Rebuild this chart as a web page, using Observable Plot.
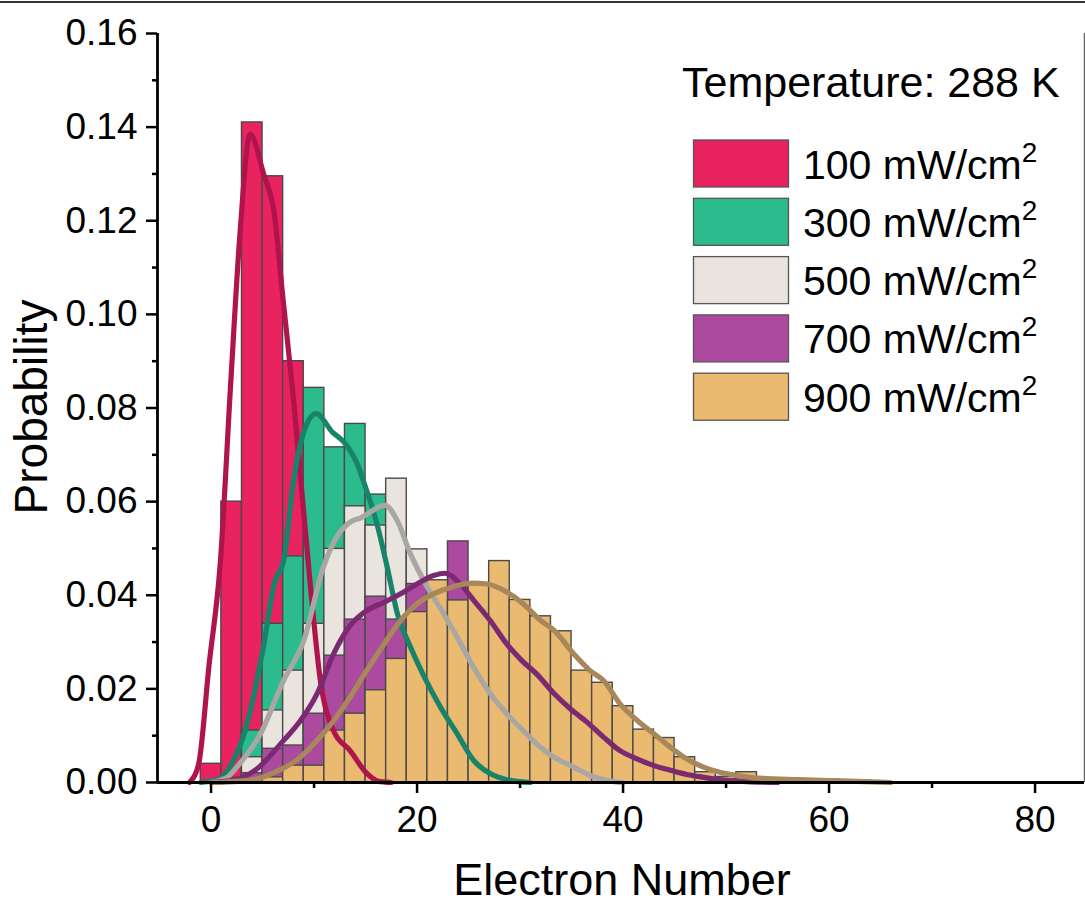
<!DOCTYPE html>
<html>
<head>
<meta charset="utf-8">
<script src="https://cdn.jsdelivr.net/npm/d3@7"></script>
<script src="https://cdn.jsdelivr.net/npm/@observablehq/plot@0.6"></script>
<style>
  body { margin: 0; background: #fff; font-family: "Liberation Sans", Arial, sans-serif; }
  #wrap { position: relative; width: 1085px; height: 906px; overflow: hidden; background: #fff; }
  #chart { position: absolute; left: 0; top: 0; }
  #overlay { position: absolute; left: 0; top: 0; pointer-events: none; }
  #topline { position: absolute; left: 0; top: 1px; width: 1085px; height: 2px; background: #333; }
</style>
</head>
<body>
<div id="wrap">
  <div id="chart"></div>
  <svg id="overlay" width="1085" height="906"></svg>
  <div id="topline"></div>
</div>
<script>
// ---- data ----
const bins = [0,2,4,6,8,10,12,14,16,18,20,22,24,26,28,30,32,34,36,38,40,42,44,46,48,50,52,54,56,58,60,62];
const binWidth = 2;
const seriesLabels = ["100", "300", "500", "700", "900"];

const p100 = [0.004,0.060,0.141,0.1295,0.090,0.036,0.012,0.005,0.001,0,0,0,0,0,0,0,0,0,0,0,0,0,0,0,0,0,0,0,0,0,0,0];
const p300 = [0,0.001,0.0111,0.0339,0.0483,0.0843,0.0716,0.0766,0.0615,0.042,0.026,0.014,0.007,0.003,0.001,0,0,0,0,0,0,0,0,0,0,0,0,0,0,0,0,0];
const p500 = [0,0.0005,0.0054,0.0154,0.0239,0.0339,0.0499,0.0590,0.0549,0.0649,0.0498,0.037,0.030,0.023,0.017,0.012,0.008,0.005,0.003,0.0015,0.0005,0,0,0,0,0,0,0,0,0,0,0];
const p700 = [0,0.0005,0.002,0.0072,0.0079,0.0147,0.0271,0.0348,0.0397,0.0348,0.0424,0.042,0.0515,0.038,0.031,0.025,0.020,0.017,0.013,0.009,0.006,0.004,0.003,0.002,0.0015,0.001,0.0003,0,0,0,0,0];
const p900 = [0,0.0003,0.0005,0.0011,0.0036,0.0036,0.0111,0.0147,0.0197,0.0264,0.0364,0.0432,0.0389,0.0425,0.0473,0.0390,0.0355,0.0323,0.0239,0.0213,0.0163,0.0113,0.0095,0.0054,0.0022,0.0012,0.0022,0,0,0,0.0006,0];

const kde100X = [-2.1,-1.2,-0.2,0.9,1.9,2.8,3.8,5.1,6.1,7.0,8.0,9.6,10.6,11.9,13.5,15.1,16.2,17.5];
const kde100Y = [0,0.004,0.025,0.047,0.085,0.117,0.1385,0.130,0.122,0.103,0.082,0.043,0.022,0.011,0.0068,0.002,0.0003,0];

const kde300X = [-1,1,2,3.3,5,6.2,7.05,8.0,9.3,10.2,11.8,12.9,14.2,15.1,16.1,17.1,18.1,19.35,20.6,22.3,23.9,25.5,27.1,28.7,31];
const kde300Y = [0,0.001,0.004,0.011,0.028,0.043,0.0474,0.0645,0.0766,0.0788,0.0748,0.0727,0.068,0.0624,0.0553,0.046,0.036,0.029,0.023,0.016,0.0104,0.0047,0.0019,0.0006,0];

const kde500X = [0,1.5,2.5,4.8,7.05,9.0,10.9,12.2,13.5,14.5,16.9,18.06,19.35,21,22.6,23.9,25.5,27.1,28.7,30.3,32,33.6,35.2,36.8,38.5,40];
const kde500Y = [0,0.001,0.0033,0.0104,0.0218,0.0303,0.046,0.0524,0.0556,0.0565,0.0592,0.056,0.0489,0.0417,0.036,0.031,0.0246,0.019,0.0147,0.0111,0.0075,0.005,0.0033,0.0015,0.0004,0];

const kde700X = [0,2.2,4.5,7.05,8.67,10.3,11.9,13.5,15.1,16.8,18.4,20,21.6,22.7,24.2,25.5,27.1,28.7,30.2,31.6,33.3,34.9,36.5,38.1,39.7,41.4,43,44.6,46.2,47.8,49.4,52,55];
const kde700Y = [0,0.0005,0.003,0.009,0.0132,0.019,0.0275,0.0335,0.0367,0.0385,0.0403,0.0424,0.0442,0.0447,0.0424,0.0389,0.0346,0.0296,0.026,0.0232,0.019,0.0157,0.0129,0.0097,0.0068,0.005,0.0036,0.0026,0.0017,0.0011,0.0006,0.0002,0];

const kde900X = [0,3.8,6,8.67,10.3,11.9,13.5,15.1,16.8,18.4,20,21.6,22.9,23.9,25.5,26.8,28.7,30.3,32,33.3,35.2,36.8,38.1,39.7,41.4,43,44.6,46.2,47.8,49.4,51.1,52.7,57.2,62,66];
const kde900Y = [0,0.0005,0.002,0.0054,0.009,0.0132,0.0182,0.0239,0.0296,0.0346,0.0382,0.0403,0.0414,0.0421,0.0426,0.0424,0.0407,0.0382,0.0346,0.0325,0.0275,0.0239,0.0218,0.0168,0.0132,0.0104,0.0075,0.005,0.0033,0.0022,0.0015,0.001,0.0006,0.0003,0];

const fillColors = ["#E8235F", "#2CBB8C", "#EAE4DE", "#AB4A9E", "#E9BA6F"];
const lineColors = ["#B0144D", "#17846A", "#A9A7A4", "#7B2A72", "#A8885A"];

const yTicks = [0,0.02,0.04,0.06,0.08,0.10,0.12,0.14,0.16];
const yMinorTicks = [0.01,0.03,0.05,0.07,0.09,0.11,0.13,0.15];
const xTicks = [0,20,40,60,80];
const xMinorTicks = [10,30,50,70];
const xDomain = [-5.2, 84.8];
const yDomain = [0, 0.16];

// ---- build tables ----
const values = [p100, p300, p500, p700, p900];
const kdeXs = [kde100X, kde300X, kde500X, kde700X, kde900X];
const kdeYs = [kde100Y, kde300Y, kde500Y, kde700Y, kde900Y];

const barTables = values.map(v => bins.map((b, i) => ({bin: b, p: v[i]})).filter(d => d.p > 0));
const kdeTables = kdeXs.map((xs, s) => xs.map((x, i) => ({x, y: kdeYs[s][i]})));

const font = "Liberation Sans, Arial, sans-serif";

const marks = [];
barTables.forEach((rows, s) => {
  marks.push(Plot.rectY(rows, {
    x1: d => d.bin - binWidth / 2,
    x2: d => d.bin + binWidth / 2,
    y: "p",
    fill: fillColors[s],
    stroke: "#4a4a4a",
    strokeWidth: 1.4
  }));
});
kdeTables.forEach((rows, s) => {
  marks.push(Plot.line(rows, {
    x: "x", y: "y",
    stroke: lineColors[s],
    strokeWidth: 5.2,
    strokeLinejoin: "round",
    strokeLinecap: "round",
    curve: "monotone-x"
  }));
});

marks.push(
  Plot.axisY({ticks: yTicks, tickSize: 11, tickPadding: 9, tickFormat: d3.format(".2f"),
              label: null, fontSize: 37, strokeWidth: 2.5, fontFamily: font}),
  Plot.axisY({ticks: yMinorTicks, tickSize: 5, tickFormat: () => "", label: null, strokeWidth: 2.5}),
  Plot.axisX({ticks: xTicks, tickSize: 11, tickPadding: 12, tickFormat: d3.format("d"),
              label: null, fontSize: 37, strokeWidth: 2.5, fontFamily: font}),
  Plot.axisX({ticks: xMinorTicks, tickSize: 6, tickFormat: () => "", label: null, strokeWidth: 2.5}),
  Plot.ruleY([yDomain[0]], {stroke: "#000", strokeWidth: 2.8}),
  Plot.ruleX([xDomain[0]], {stroke: "#000", strokeWidth: 2.8}),
  Plot.ruleX([xDomain[1]], {stroke: "#666", strokeWidth: 1.5})
);

const chart = Plot.plot({
  width: 1085,
  height: 906,
  marginLeft: 157,
  marginRight: 1,
  marginTop: 33,
  marginBottom: 124,
  x: {domain: xDomain},
  y: {domain: yDomain},
  style: {fontFamily: font, color: "#000", background: "#fff", overflow: "visible"},
  marks
});
document.getElementById("chart").appendChild(chart);

// ---- titles and legend ----
const ov = d3.select("#overlay").style("font-family", font);
ov.append("text")
  .attr("x", 622).attr("y", 895)
  .attr("text-anchor", "middle")
  .attr("font-size", 45)
  .text("Electron Number");
ov.append("text")
  .attr("transform", "translate(47,407) rotate(-90)")
  .attr("text-anchor", "middle")
  .attr("font-size", 46)
  .text("Probability");

ov.append("text")
  .attr("x", 682).attr("y", 97)
  .attr("font-size", 43)
  .text("Temperature: 288 K");

seriesLabels.forEach((s, i) => {
  const y0 = 140 + i * 58.3;
  ov.append("rect")
    .attr("x", 693.5).attr("y", y0)
    .attr("width", 95).attr("height", 47)
    .attr("fill", fillColors[i])
    .attr("stroke", "#555").attr("stroke-width", 1.3);
  const t = ov.append("text")
    .attr("x", 803).attr("y", y0 + 38.5)
    .attr("font-size", 41);
  t.append("tspan").text(`${s} mW/cm`);
  t.append("tspan").attr("dy", -17).attr("font-size", 28).text("2");
});
</script>
</body>
</html>
